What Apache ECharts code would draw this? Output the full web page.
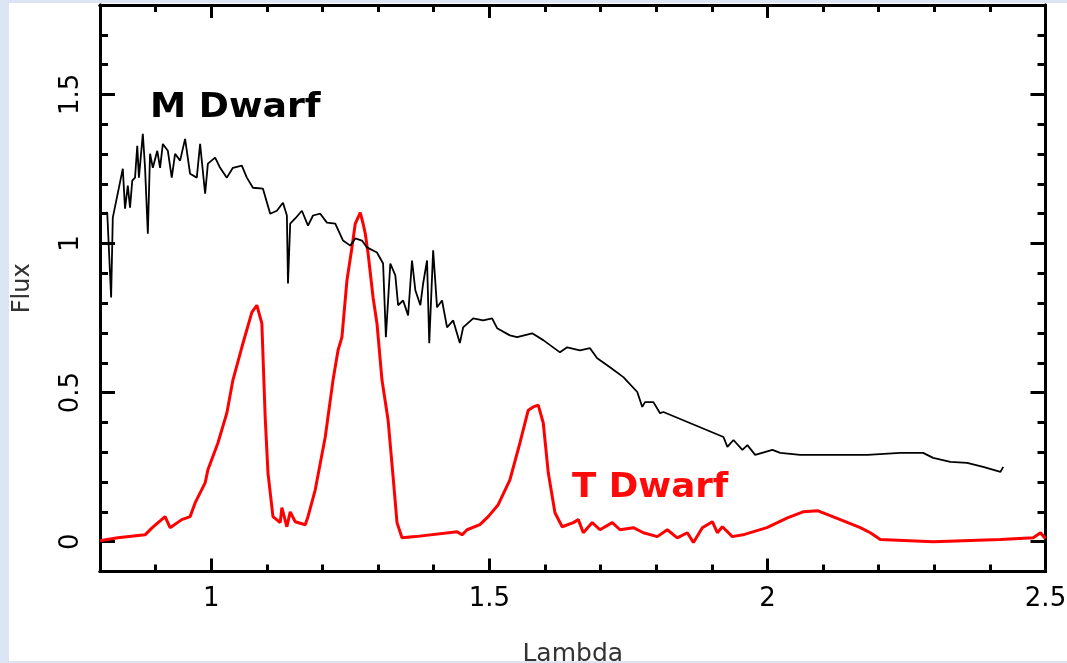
<!DOCTYPE html>
<html>
<head>
<meta charset="utf-8">
<script src="https://cdn.jsdelivr.net/npm/echarts@6/dist/echarts.min.js"></script>
<style>
html,body{margin:0;padding:0;width:1067px;height:663px;overflow:hidden;background:#dbe5f3;}
#c{position:absolute;left:9px;top:3px;width:1058px;height:658px;background:#ffffff;}
</style>
</head>
<body>
<div id="c"></div>
<script>
// ---- data ----
var mLambda = [0.800,0.804,0.813,0.820,0.823,0.841,0.845,0.850,0.854,0.858,0.863,0.867,0.870,0.877,0.881,0.886,0.890,0.895,0.903,0.908,0.913,0.922,0.929,0.935,0.944,0.953,0.962,0.974,0.980,0.989,0.994,1.007,1.016,1.028,1.039,1.055,1.064,1.075,1.093,1.106,1.118,1.129,1.136,1.138,1.142,1.151,1.163,1.174,1.183,1.196,1.208,1.223,1.237,1.250,1.259,1.271,1.280,1.298,1.309,1.314,1.322,1.331,1.336,1.345,1.354,1.361,1.367,1.376,1.381,1.388,1.392,1.399,1.406,1.415,1.424,1.435,1.447,1.453,1.471,1.489,1.505,1.514,1.537,1.550,1.577,1.597,1.627,1.640,1.663,1.681,1.694,1.717,1.741,1.766,1.775,1.780,1.795,1.807,1.813,1.921,1.928,1.939,1.955,1.964,1.978,2.009,2.023,2.059,2.118,2.180,2.239,2.280,2.298,2.329,2.359,2.388,2.419,2.424];
var mFlux = [1.094,1.100,1.104,0.819,1.087,1.251,1.117,1.194,1.120,1.211,1.221,1.328,1.221,1.368,1.254,1.033,1.301,1.254,1.311,1.254,1.334,1.311,1.221,1.301,1.278,1.351,1.234,1.221,1.334,1.167,1.268,1.288,1.254,1.221,1.254,1.261,1.221,1.187,1.184,1.100,1.110,1.137,1.094,0.866,1.067,1.084,1.110,1.060,1.094,1.100,1.070,1.067,1.010,0.993,1.017,1.010,0.987,0.970,0.933,0.686,0.933,0.893,0.793,0.809,0.759,0.943,0.843,0.793,0.866,0.943,0.666,0.977,0.786,0.809,0.719,0.742,0.666,0.719,0.749,0.742,0.749,0.716,0.692,0.686,0.699,0.676,0.635,0.652,0.642,0.649,0.615,0.585,0.552,0.502,0.452,0.468,0.468,0.431,0.435,0.351,0.318,0.341,0.308,0.324,0.291,0.308,0.298,0.291,0.291,0.291,0.298,0.298,0.281,0.268,0.264,0.251,0.234,0.251];

var tLambda = [0.800,0.832,0.881,0.894,0.917,0.926,0.947,0.962,0.971,0.989,0.994,1.012,1.028,1.039,1.055,1.073,1.082,1.091,1.097,1.102,1.111,1.124,1.127,1.136,1.142,1.151,1.169,1.174,1.187,1.205,1.219,1.228,1.235,1.244,1.253,1.259,1.268,1.273,1.277,1.282,1.291,1.298,1.307,1.318,1.327,1.334,1.343,1.367,1.442,1.451,1.460,1.483,1.498,1.516,1.537,1.555,1.570,1.579,1.588,1.597,1.606,1.618,1.631,1.651,1.660,1.669,1.685,1.699,1.721,1.735,1.759,1.777,1.802,1.820,1.838,1.856,1.867,1.883,1.901,1.910,1.919,1.937,1.956,1.999,2.036,2.064,2.090,2.131,2.167,2.185,2.203,2.298,2.419,2.478,2.491,2.500];
var tFlux = [0.003,0.013,0.023,0.047,0.084,0.047,0.074,0.084,0.130,0.197,0.241,0.331,0.431,0.542,0.652,0.769,0.793,0.732,0.418,0.231,0.084,0.064,0.114,0.050,0.100,0.067,0.057,0.084,0.174,0.351,0.542,0.642,0.686,0.876,0.987,1.067,1.104,1.067,1.033,0.967,0.819,0.732,0.542,0.408,0.217,0.064,0.013,0.017,0.033,0.023,0.040,0.057,0.084,0.124,0.207,0.331,0.441,0.452,0.458,0.398,0.231,0.097,0.050,0.064,0.074,0.030,0.064,0.040,0.064,0.040,0.047,0.030,0.017,0.040,0.013,0.030,-0.003,0.047,0.067,0.030,0.050,0.017,0.023,0.047,0.080,0.100,0.104,0.074,0.047,0.030,0.007,0.000,0.007,0.013,0.030,0.010];

var xMajor = [1, 1.5, 2, 2.5];
var xMinor = [0.9, 1.1, 1.2, 1.3, 1.4, 1.6, 1.7, 1.8, 1.9, 2.1, 2.2, 2.3, 2.4];
var yMajor = [0, 0.5, 1, 1.5];
var yMinor = [0.1, 0.2, 0.3, 0.4, 0.6, 0.7, 0.8, 0.9, 1.1, 1.2, 1.3, 1.4, 1.6, 1.7];

function pairs(a, b){ var r=[]; for(var i=0;i<a.length;i++) r.push([a[i], b[i]]); return r; }

var chart = echarts.init(document.getElementById('c'), null, {renderer:'canvas'});
var lineStyleAxis = {color:'#000', width:3};
var labelFont = {color:'#000', fontFamily:'DejaVu Sans', fontSize:26};

function xAx(pos, ticks, len, labels, extra){
  var o = {
    type:'value', min:0.8, max:2.5, position:pos, gridIndex:0,
    axisLine:{show:true, onZero:false, lineStyle:lineStyleAxis},
    axisTick:{show:true, inside:true, length:len, customValues:ticks, lineStyle:{color:'#000', width:3}},
    axisLabel:labels ? Object.assign({show:true, customValues:ticks, margin:15, hideOverlap:false, formatter:function(v){return String(v);}}, labelFont) : {show:false},
    splitLine:{show:false}
  };
  return Object.assign(o, extra||{});
}
function yAx(pos, ticks, len, labels, extra){
  var o = {
    type:'value', min:-0.1, max:1.8, position:pos, gridIndex:0,
    axisLine:{show:true, onZero:false, lineStyle:lineStyleAxis},
    axisTick:{show:true, inside:true, length:len, customValues:ticks, lineStyle:{color:'#000', width:3}},
    axisLabel:labels ? Object.assign({show:true, customValues:ticks, rotate:90, margin:16, formatter:function(v){return String(v);}}, labelFont) : {show:false},
    splitLine:{show:false}
  };
  return Object.assign(o, extra||{});
}

var option = {
  animation:false,
  backgroundColor:'#ffffff',
  grid:{left:91, right:21.5, top:2, bottom:89.5, containLabel:false, outerBoundsMode:'none'},
  xAxis:[
    xAx('bottom', xMajor, 13, true, {name:'Lambda', nameLocation:'middle', nameGap:70,
      nameTextStyle:{color:'#333', fontFamily:'DejaVu Sans', fontSize:25}}),
    xAx('bottom', xMinor, 7, false),
    xAx('top', xMajor, 13, false),
    xAx('top', xMinor, 7, false)
  ],
  yAxis:[
    yAx('left', yMajor, 15, true, {name:'Flux', nameLocation:'middle', nameGap:65, nameRotate:90,
      nameTextStyle:{color:'#333', fontFamily:'DejaVu Sans', fontSize:24}}),
    yAx('left', yMinor, 8, false),
    yAx('right', yMajor, 15, false),
    yAx('right', yMinor, 8, false)
  ],
  series:[
    {name:'M Dwarf', type:'line', xAxisIndex:0, yAxisIndex:0, data:pairs(mLambda, mFlux),
     showSymbol:false, symbol:'none', lineStyle:{color:'#000', width:1.8}, z:3},
    {name:'T Dwarf', type:'line', xAxisIndex:0, yAxisIndex:0, data:pairs(tLambda, tFlux),
     showSymbol:false, symbol:'none', lineStyle:{color:'#ff0000', width:3}, z:2}
  ],
  graphic:[
    {type:'text', left:141, top:89, scaleX:1.1, style:{text:'M Dwarf', fill:'#000', font:'bold 33px "DejaVu Sans"',
      textShadowColor:'rgba(255,0,0,0.35)', textShadowOffsetX:1}},
    {type:'text', left:563, top:469, scaleX:1.08, style:{text:'T Dwarf', fill:'#ff0a0a', font:'bold 33px "DejaVu Sans"'}}
  ]
};
chart.setOption(option);
</script>
</body>
</html>
